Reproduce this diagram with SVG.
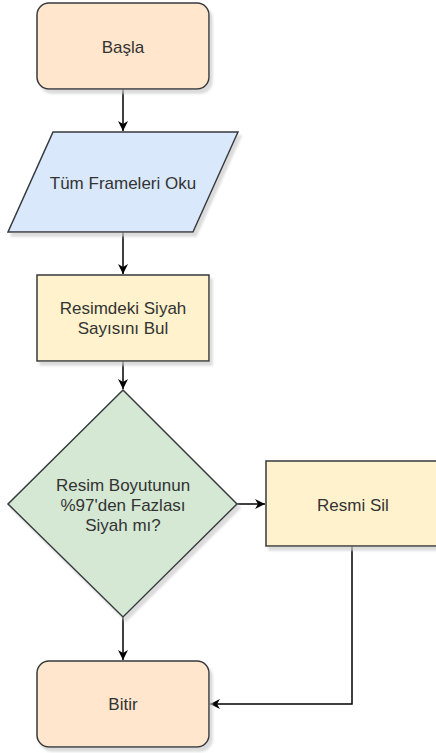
<svg xmlns="http://www.w3.org/2000/svg" width="436" height="753" viewBox="0 0 436 753">
  <style>
    .shape { stroke: #36393d; stroke-width: 1.5; }
    .start { fill: #ffe6cc; }
    .io { fill: #dae8fc; }
    .proc { fill: #fff2cc; }
    .dec { fill: #d5e8d4; }
    .label { font-family: "Liberation Sans", Arial, sans-serif; font-size: 17px; fill: #333333; text-anchor: middle; }
    .edge { fill: none; stroke: #000000; stroke-width: 1.5; }
  </style>
  <defs>
    <filter id="shadow" x="-10%" y="-10%" width="130%" height="130%">
      <feOffset in="SourceAlpha" dx="3" dy="4" result="off"/>
      <feColorMatrix in="off" type="matrix" values="0 0 0 0 0.6  0 0 0 0 0.6  0 0 0 0 0.6  0 0 0 0.7 0" result="sh"/>
      <feGaussianBlur in="sh" stdDeviation="0.8" result="blur"/>
      <feMerge><feMergeNode in="blur"/><feMergeNode in="SourceGraphic"/></feMerge>
    </filter>
    <marker id="arrow" viewBox="0 0 10 10" refX="10" refY="5" markerWidth="10" markerHeight="10" markerUnits="userSpaceOnUse" orient="auto">
      <path d="M0,0 L10,5 L0,10 L3,5 z" fill="#000000"/>
    </marker>
  </defs>

  <!-- connectors -->
  <g id="connectors">
    <path class="edge" d="M123,89 L123,131" marker-end="url(#arrow)"/>
    <path class="edge" d="M123,232 L123,274" marker-end="url(#arrow)"/>
    <path class="edge" d="M123,361 L123,389" marker-end="url(#arrow)"/>
    <path class="edge" d="M237,504 L265,504" marker-end="url(#arrow)"/>
    <path class="edge" d="M123,617 L123,660" marker-end="url(#arrow)"/>
    <path class="edge" d="M352,546 L352,704 L210,704" marker-end="url(#arrow)"/>
  </g>

  <!-- start -->
  <g id="basla">
    <rect class="shape start" x="37" y="3" width="172" height="86" rx="12" ry="12" filter="url(#shadow)"/>
    <text class="label" x="123" y="53">Başla</text>
  </g>

  <!-- read all frames -->
  <g id="frameleri-oku">
    <polygon class="shape io" points="53,132 238,132 193,232 8,232" filter="url(#shadow)"/>
    <text class="label" x="123" y="189">Tüm Frameleri Oku</text>
  </g>

  <!-- count black pixels -->
  <g id="siyah-say">
    <rect class="shape proc" x="37" y="275" width="172" height="86" filter="url(#shadow)"/>
    <text class="label" x="123" y="314">Resimdeki Siyah</text>
    <text class="label" x="123" y="334">Sayısını Bul</text>
  </g>

  <!-- decision -->
  <g id="karar">
    <polygon class="shape dec" points="123,390 237,504 123,617 8,504" filter="url(#shadow)"/>
    <text class="label" x="123" y="491">Resim Boyutunun</text>
    <text class="label" x="123" y="511">%97'den Fazlası</text>
    <text class="label" x="123" y="531">Siyah mı?</text>
  </g>

  <!-- delete image -->
  <g id="resmi-sil">
    <rect class="shape proc" x="266" y="461" width="174" height="85" filter="url(#shadow)"/>
    <text class="label" x="353" y="511">Resmi Sil</text>
  </g>

  <!-- end -->
  <g id="bitir">
    <rect class="shape start" x="37" y="661" width="172" height="86" rx="12" ry="12" filter="url(#shadow)"/>
    <text class="label" x="123" y="710">Bitir</text>
  </g>
</svg>
